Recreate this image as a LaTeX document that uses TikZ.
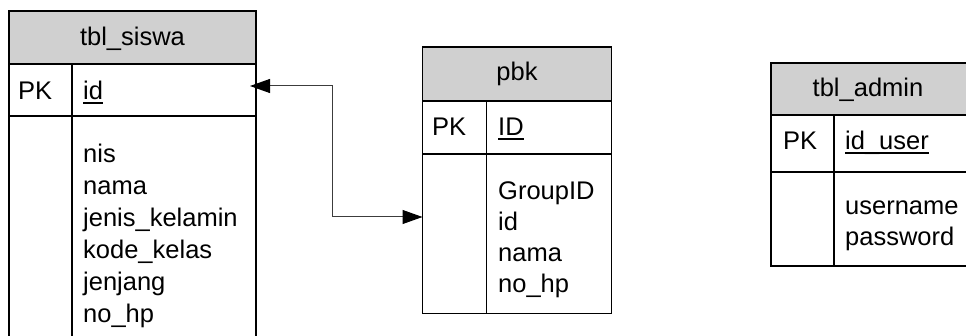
\documentclass[tikz,border=0pt]{standalone}
\usepackage{fontspec}
\setmainfont{Liberation Sans}
\usetikzlibrary{arrows.meta}
\definecolor{headgray}{RGB}{208,208,208}
\definecolor{linkgray}{RGB}{60,60,60}
\begin{document}
\begin{tikzpicture}[x=1pt,y=-1pt,
  cell/.style={draw=black, line width=1.8pt, inner sep=0, outer sep=0, anchor=north west},
  head/.style={cell, fill=headgray},
  txt/.style={inner sep=0, anchor=base west, font=\fontsize{25.5}{32}\selectfont},
  ctxt/.style={txt, anchor=base},
  keyline/.style={line width=1.6pt},
  link/.style={draw=linkgray, line width=1pt,
    {Triangle[length=20pt,width=14pt,color=black]}-{Triangle[length=20pt,width=14pt,color=black]}}]
\useasboundingbox (0,0) rectangle (966,336);
\clip (0,0) rectangle (966,336);
\node[head, minimum width=247pt, minimum height=53pt] (swhead) at (9,11){};
\node[cell, minimum width=63pt, minimum height=52pt] (swpk) at (9,64){};
\node[cell, minimum width=184pt, minimum height=52pt] (swkey) at (72,64){};
\node[cell, minimum width=63pt, minimum height=240pt] (swside) at (9,116){};
\node[cell, minimum width=184pt, minimum height=240pt] (swattr) at (72,116){};
\node[ctxt] (swtitle) at (132.5,46){tbl\_siswa};
\node[txt] (swpktxt) at (18,100){PK};
\node[txt] (swid) at (83,100){id};
\draw[keyline] ([yshift=-3pt]swid.base west) -- ([yshift=-3pt]swid.base east);
\node[txt] (swnis) at (83,163){nis};
\node[txt] (swnama) at (83,195){nama};
\node[txt] (swjk) at (83,227){jenis\_kelamin};
\node[txt] (swkelas) at (83,259){kode\_kelas};
\node[txt] (swjenjang) at (83,291){jenjang};
\node[txt] (swhp) at (83,323){no\_hp};
\node[head, minimum width=189pt, minimum height=54pt] (pbhead) at (422.5,47){};
\node[cell, minimum width=64pt, minimum height=53pt] (pbpk) at (422.5,101){};
\node[cell, minimum width=125pt, minimum height=53pt] (pbkey) at (486.5,101){};
\node[cell, minimum width=64pt, minimum height=159.5pt] (pbside) at (422.5,154){};
\node[cell, minimum width=125pt, minimum height=159.5pt] (pbattr) at (486.5,154){};
\node[ctxt] (pbtitle) at (517,81){pbk};
\node[txt] (pbpktxt) at (432,136){PK};
\node[txt] (pbid) at (498,136){ID};
\draw[keyline] ([yshift=-3pt]pbid.base west) -- ([yshift=-3pt]pbid.base east);
\node[txt] (pbgroup) at (498,200){GroupID};
\node[txt] (pbsid) at (498,231){id};
\node[txt] (pbnama) at (498,262){nama};
\node[txt] (pbhp) at (498,293){no\_hp};
\node[head, minimum width=197pt, minimum height=52pt] (adhead) at (771,63){};
\node[cell, minimum width=63pt, minimum height=57pt] (adpk) at (771,115){};
\node[cell, minimum width=134pt, minimum height=57pt] (adkey) at (834,115){};
\node[cell, minimum width=63pt, minimum height=94pt] (adside) at (771,172){};
\node[cell, minimum width=134pt, minimum height=94pt] (adattr) at (834,172){};
\node[ctxt] (adtitle) at (868,97){tbl\_admin};
\node[txt] (adpktxt) at (783,150){PK};
\node[txt] (aduser) at (845,150){id\_user};
\draw[keyline] ([yshift=-3pt]aduser.base west) -- ([yshift=-3pt]aduser.base east);
\node[txt] (adname) at (845,215){username};
\node[txt] (adpass) at (845,246){password};
\coordinate (swend) at (250,86);
\coordinate (pbend) at (422.5,217);
\draw[link] (swend) -- (332,86) |- (pbend);
\end{tikzpicture}
\end{document}
